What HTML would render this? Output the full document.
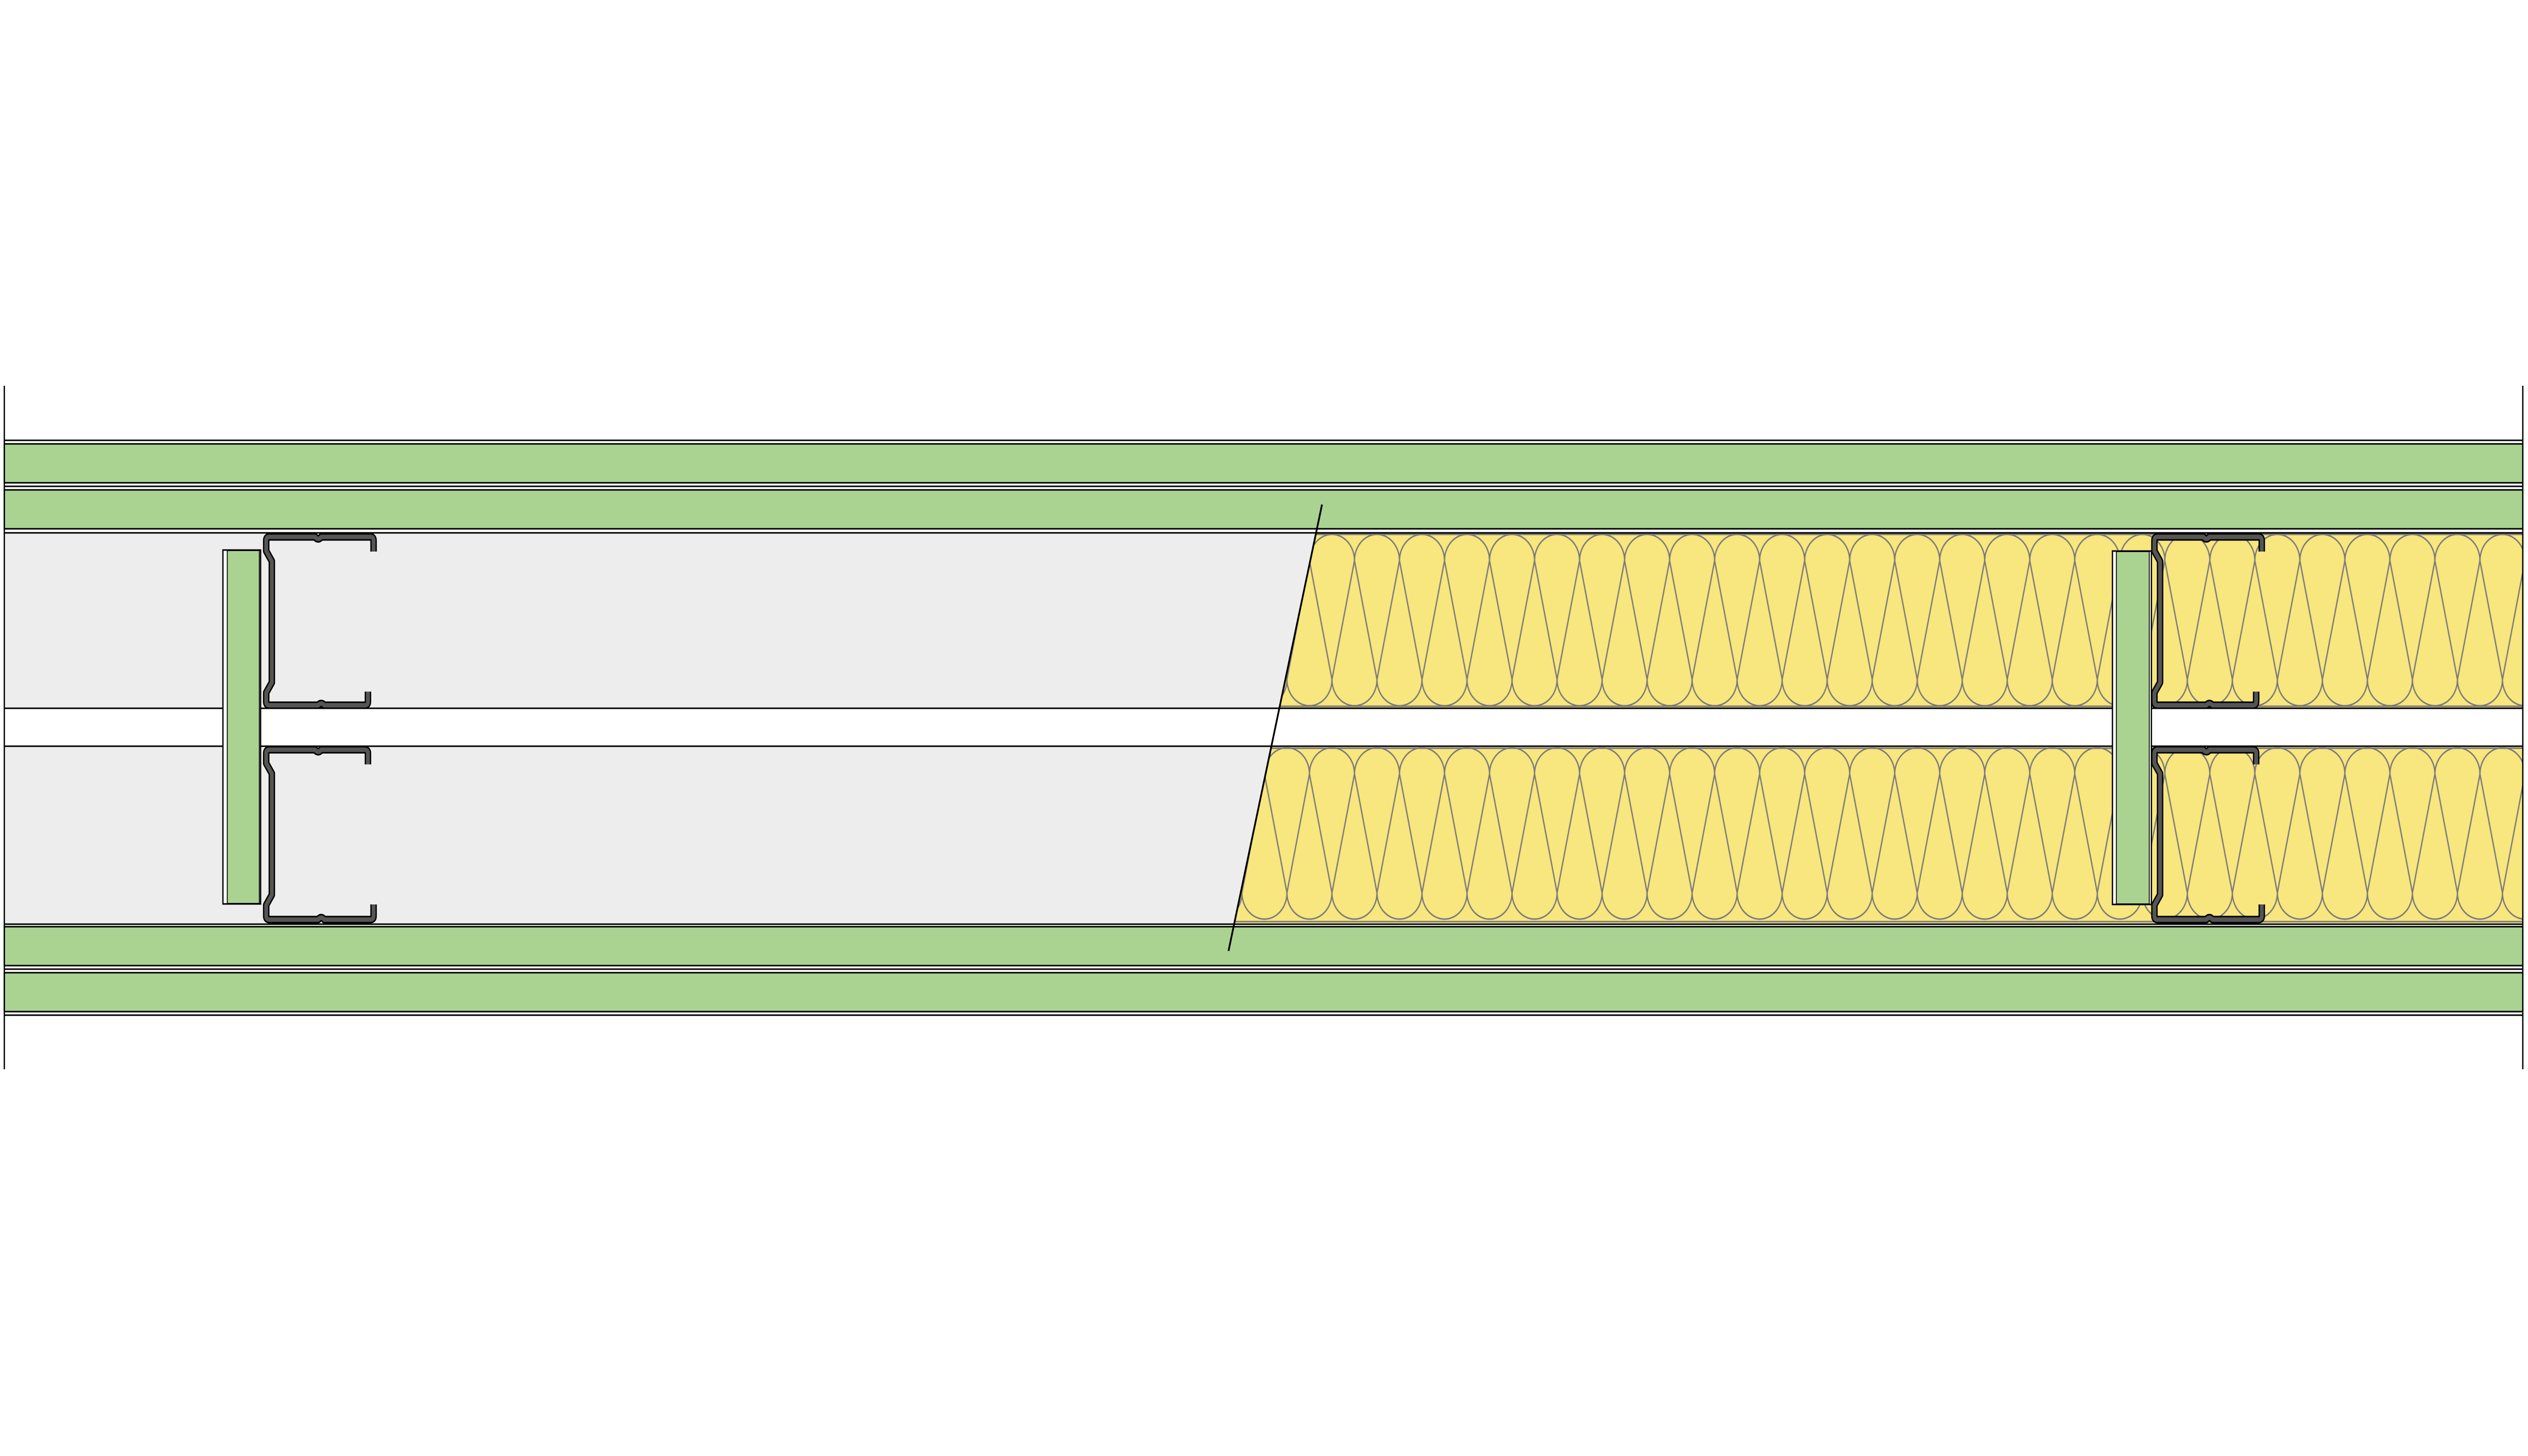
<!DOCTYPE html>
<html><head><meta charset="utf-8"><style>html,body{margin:0;padding:0;background:#fff;overflow:hidden;width:100%;height:100%}svg{display:block;width:100vw;height:100vh}</style></head>
<body>
<svg viewBox="0 0 5840 2880" preserveAspectRatio="none" xmlns="http://www.w3.org/2000/svg">
<defs>
<pattern id="insU" patternUnits="userSpaceOnUse" x="9" y="0" width="104" height="2880">
<g fill="none" stroke="#7a7a7a" stroke-width="3">
<path d="M0,1109 L52,1344 L104,1109"/>
<path d="M0,1109 A52,52 0 0 1 104,1109"/>
<path d="M-52,1344 A52,52 0 0 0 52,1344 M52,1344 A52,52 0 0 0 156,1344"/>
</g></pattern>
<pattern id="insL" patternUnits="userSpaceOnUse" x="9" y="0" width="104" height="2880">
<g fill="none" stroke="#7a7a7a" stroke-width="3">
<path d="M0,1531 L52,1766 L104,1531"/>
<path d="M0,1531 A52,52 0 0 1 104,1531"/>
<path d="M-52,1766 A52,52 0 0 0 52,1766 M52,1766 A52,52 0 0 0 156,1766"/>
</g></pattern>
</defs>
<rect width="5840" height="2880" fill="#fff"/>
<g stroke="#000" stroke-width="3">
<line x1="10" y1="871" x2="5828" y2="871"/>
<rect x="10" y="878" width="5818" height="77" fill="#aad391"/>
<line x1="10" y1="962" x2="5828" y2="962"/>
<rect x="10" y="969" width="5818" height="77" fill="#aad391"/>
<line x1="10" y1="1054" x2="5828" y2="1054"/>
<line x1="10" y1="1828" x2="5828" y2="1828"/>
<rect x="10" y="1833" width="5818" height="77" fill="#aad391"/>
<line x1="10" y1="1917" x2="5828" y2="1917"/>
<rect x="10" y="1924" width="5818" height="77" fill="#aad391"/>
<line x1="10" y1="2008" x2="5828" y2="2008"/>
</g>
<rect x="10" y="1056" width="5818" height="345" fill="#f8e67e"/>
<rect x="10" y="1056" width="5818" height="345" fill="url(#insU)"/>
<rect x="10" y="1478" width="5818" height="348" fill="#f8e67e"/>
<rect x="10" y="1478" width="5818" height="348" fill="url(#insL)"/>
<line x1="10" y1="1057" x2="5828" y2="1057" stroke="#7a7a7a" stroke-width="3"/>
<line x1="10" y1="1397" x2="5828" y2="1397" stroke="#7a7a7a" stroke-width="3"/>
<line x1="10" y1="1480" x2="5828" y2="1480" stroke="#7a7a7a" stroke-width="3"/>
<line x1="10" y1="1823" x2="5828" y2="1823" stroke="#7a7a7a" stroke-width="3"/>
<polygon points="10,1055 3040,1055 2955,1402 10,1402" fill="#ededed"/>
<polygon points="10,1476 2937,1476 2851,1828 10,1828" fill="#ededed"/>
<g stroke="#000" stroke-width="3">
<line x1="10" y1="1401" x2="5828" y2="1401"/>
<line x1="10" y1="1476" x2="5828" y2="1476"/>
<line x1="10" y1="1054" x2="5828" y2="1054"/>
<line x1="10" y1="1828" x2="5828" y2="1828"/>
</g>
<rect x="515" y="1088" width="87" height="700" fill="#fff" stroke="#000" stroke-width="3"/>
<rect x="525" y="1089" width="74" height="698" fill="#aad391" stroke="#000" stroke-width="2"/>
<rect x="4880" y="1090" width="90" height="699" fill="#fff" stroke="#000" stroke-width="3"/>
<rect x="4889" y="1091" width="76" height="697" fill="#aad391" stroke="#000" stroke-width="2"/>
<g fill="none" stroke-linejoin="round">
<g id="s1">
<path d="M863,1091 L863,1069 Q863,1062 856,1062 L742,1062 Q735,1070 728,1062 L622,1062 Q615,1062 615,1069 L615,1090 L628,1110 L628,1350 L615,1370 L615,1388 Q615,1395 622,1395 L735,1395 Q742,1388 749,1395 L843,1395 Q850,1395 850,1388 L850,1368" stroke="#000" stroke-width="15"/>
<path d="M863,1091 L863,1069 Q863,1062 856,1062 L742,1062 Q735,1070 728,1062 L622,1062 Q615,1062 615,1069 L615,1090 L628,1110 L628,1350 L615,1370 L615,1388 Q615,1395 622,1395 L735,1395 Q742,1388 749,1395 L843,1395 Q850,1395 850,1388 L850,1368" stroke="#555" stroke-width="9"/>
<path d="M850,1512 L850,1490 Q850,1483 843,1483 L742,1483 Q735,1491 728,1483 L622,1483 Q615,1483 615,1490 L615,1510 L628,1530 L628,1770 L615,1790 L615,1812 Q615,1819 622,1819 L735,1819 Q742,1811 749,1819 L856,1819 Q863,1819 863,1812 L863,1789" stroke="#000" stroke-width="15"/>
<path d="M850,1512 L850,1490 Q850,1483 843,1483 L742,1483 Q735,1491 728,1483 L622,1483 Q615,1483 615,1490 L615,1510 L628,1530 L628,1770 L615,1790 L615,1812 Q615,1819 622,1819 L735,1819 Q742,1811 749,1819 L856,1819 Q863,1819 863,1812 L863,1789" stroke="#555" stroke-width="9"/>
</g>
<use href="#s1" transform="translate(4362,0)"/>
</g>
<line x1="3054" y1="998" x2="2838" y2="1881" stroke="#000" stroke-width="4"/>
<line x1="10" y1="763" x2="10" y2="2115" stroke="#000" stroke-width="3"/>
<line x1="5828" y1="763" x2="5828" y2="2115" stroke="#000" stroke-width="3"/>
</svg>
</body></html>
